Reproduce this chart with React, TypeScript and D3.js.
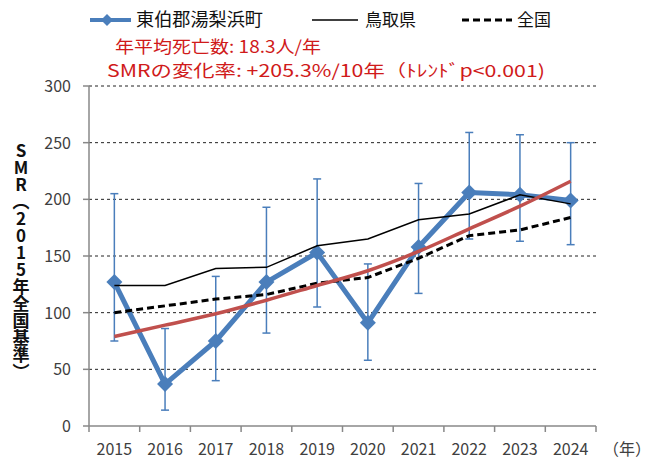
import React from 'react';
import * as d3 from 'd3';

const years = ['2015', '2016', '2017', '2018', '2019', '2020', '2021', '2022', '2023', '2024'];
const townSmr = [127, 37, 75, 127, 153, 91, 158, 206, 204, 199];
const townLower = [75, 14, 40, 82, 105, 58, 117, 165, 163, 160];
const townUpper = [205, 86, 132, 193, 218, 143, 214, 259, 257, 250];
const tottoriSmr = [124, 124, 139, 140, 159, 165, 182, 187, 204, 196];
const nationalSmr = [100, 106, 112, 116, 126, 131, 148, 168, 173, 184];
const trendSmr = [79, 89, 99, 111, 124, 137, 154, 174, 194, 216];
const yTicks = [0, 50, 100, 150, 200, 250, 300];

const blue = '#4a7ebb';
const red = '#c0504d';
const font = '"Noto Sans CJK JP", "Noto Sans", sans-serif';

const App = () => {
    const left = 89, right = 596, top = 86, bottom = 426;

    const x = d3.scaleBand().domain(years).range([left, right]);
    const y = d3.scaleLinear().domain([0, 300]).range([bottom, top]);
    const cx = (i: number) => x(years[i])! + x.bandwidth() / 2;

    const line = d3.line<number>().x((d, i) => cx(i)).y(d => y(d));
    const curve = d3.line<number>().x((d, i) => cx(i)).y(d => y(d)).curve(d3.curveMonotoneX);

    const diamond = (px: number, py: number, r: number) =>
        `M${px},${py - r}L${px + r},${py}L${px},${py + r}L${px - r},${py}Z`;

    return (
        <svg width={660} height={461} style={{position: 'absolute', left: 0, top: 0, background: '#fff'}} fontFamily={font}>
            {/* grid */}
            {yTicks.filter(t => t > 0).map(t =>
                <line key={t} x1={left} x2={right} y1={y(t)} y2={y(t)} stroke="#222" strokeWidth={1} strokeDasharray="3,3"/>
            )}
            {/* axes */}
            <line x1={left} x2={left} y1={top} y2={bottom} stroke="#888" strokeWidth={1.5}/>
            <line x1={left} x2={right} y1={bottom} y2={bottom} stroke="#888" strokeWidth={1.5}/>
            {yTicks.map(t =>
                <g key={t}>
                    <line x1={left - 6} x2={left} y1={y(t)} y2={y(t)} stroke="#888" strokeWidth={1.5}/>
                    <text x={71} y={y(t) + 6} textAnchor="end" fontSize={16} fill="#404040">{t}</text>
                </g>
            )}
            {years.map((yr, i) =>
                <g key={yr}>
                    <line x1={x(yr)!} x2={x(yr)!} y1={bottom} y2={bottom + 6} stroke="#888" strokeWidth={1.5}/>
                    <text x={cx(i)} y={455} textAnchor="middle" fontSize={16} fill="#404040">{yr}</text>
                </g>
            )}
            <line x1={right} x2={right} y1={bottom} y2={bottom + 6} stroke="#888" strokeWidth={1.5}/>
            <text x={603} y={455} fontSize={16} fill="#404040">（年）</text>

            {/* y axis title */}
            <text x={21} y={142} fontSize={17} fontWeight="bold" fill="#111"
                  style={{writingMode: 'vertical-rl', textOrientation: 'upright'} as React.CSSProperties}>
                SMR（2015年全国基準）
            </text>

            {/* town series with error bars */}
            {townSmr.map((d, i) =>
                <g key={i} stroke={blue} strokeWidth={1.5}>
                    <line x1={cx(i)} x2={cx(i)} y1={y(townUpper[i])} y2={y(townLower[i])}/>
                    <line x1={cx(i) - 4} x2={cx(i) + 4} y1={y(townUpper[i])} y2={y(townUpper[i])}/>
                    <line x1={cx(i) - 4} x2={cx(i) + 4} y1={y(townLower[i])} y2={y(townLower[i])}/>
                </g>
            )}
            <path d={line(townSmr)!} fill="none" stroke={blue} strokeWidth={5} strokeLinejoin="round"/>
            {townSmr.map((d, i) =>
                <path key={i} d={diamond(cx(i), y(d), 8)} fill={blue}/>
            )}

            <path d={line(tottoriSmr)!} fill="none" stroke="#000" strokeWidth={1.5}/>
            <path d={line(nationalSmr)!} fill="none" stroke="#000" strokeWidth={3} strokeDasharray="7,4"/>
            <path d={curve(trendSmr)!} fill="none" stroke={red} strokeWidth={3.5}/>

            {/* legend */}
            <line x1={90} x2={131} y1={20} y2={20} stroke={blue} strokeWidth={4}/>
            <path d={diamond(107, 20, 6)} fill={blue}/>
            <text x={136} y={26} fontSize={18} fill="#111" textLength={127} lengthAdjust="spacingAndGlyphs">東伯郡湯梨浜町</text>
            <line x1={312} x2={358} y1={20} y2={20} stroke="#000" strokeWidth={1.5}/>
            <text x={365} y={26} fontSize={17} fill="#111">鳥取県</text>
            <line x1={462} x2={512} y1={20} y2={20} stroke="#000" strokeWidth={3} strokeDasharray="7,4"/>
            <text x={517} y={26} fontSize={17} fill="#111">全国</text>

            <text x={115} y={53} fontSize={17} fill="#d01a1a" textLength={206} lengthAdjust="spacingAndGlyphs">年平均死亡数: 18.3人/年</text>
            <text x={107} y={77} fontSize={17} fill="#d01a1a" textLength={438} lengthAdjust="spacingAndGlyphs">SMRの変化率: +205.3%/10年（ﾄﾚﾝﾄﾞp&lt;0.001)</text>
        </svg>
    );
};

export default App;
